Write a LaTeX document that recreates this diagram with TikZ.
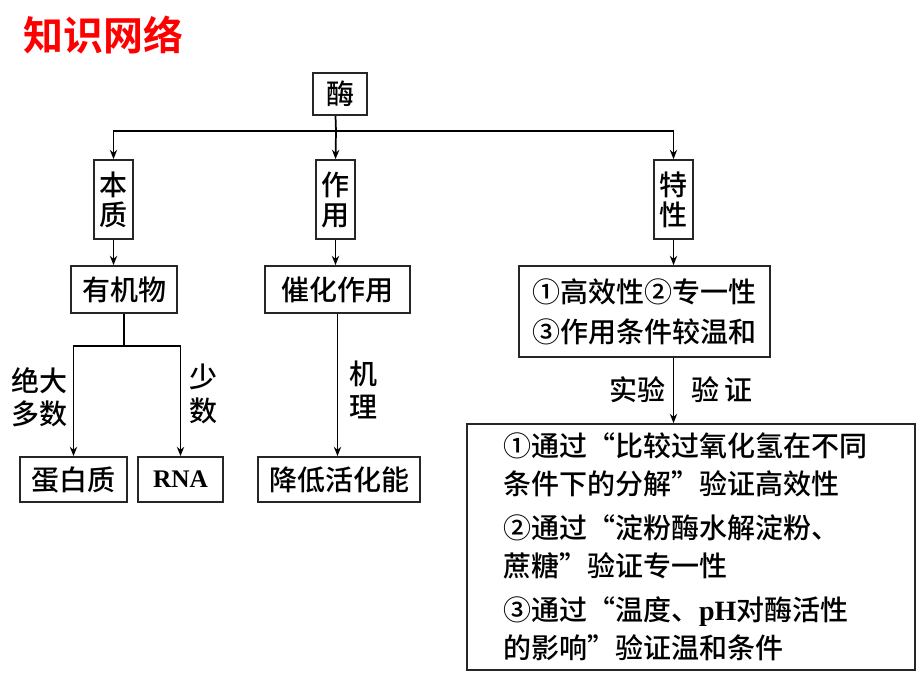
\documentclass[tikz,border=0pt]{standalone}
\usepackage{fontspec}
\setmainfont{Noto Sans CJK SC}[UprightFont=* Medium,BoldFont=* Bold]
\newfontfamily\latinbf{Liberation Serif}
\usetikzlibrary{arrows.meta}

\begin{document}
\begin{tikzpicture}[x=0.75pt,y=-0.75pt,
box/.style={draw=black!85,line width=1.3pt,inner sep=0pt,font=\fontsize{21}{22.5}\selectfont},
link/.style={line width=1.3pt},
arr/.style={link,-{Stealth[length=7pt,width=5.5pt]}},
lbl/.style={align=center,font=\fontsize{21}{25}\selectfont}]
\useasboundingbox (0,0) rectangle (920,690);
\node[text=red,font=\fontsize{30}{30}\selectfont\bfseries] (title) at (103,35) {知识网络};
\node[box,minimum width=40.5pt,minimum height=31.5pt] (mei) at (340,94) {酶};
\node[box,align=center,minimum width=29.25pt,minimum height=59.25pt] (benzhi) at (113.5,199.5) {本\\质};
\node[box,align=center,minimum width=29.25pt,minimum height=59.25pt] (zuoyong) at (335.5,199.5) {作\\用};
\node[box,align=center,minimum width=29.25pt,minimum height=59.25pt] (texing) at (673.5,199.5) {特\\性};
\node[box,minimum width=79.5pt,minimum height=35.25pt] (youjiwu) at (124,289.5) {有机物};
\node[box,minimum width=108.75pt,minimum height=35.25pt] (cuihua) at (337.5,289.5) {催化作用};
\node[box,align=left,minimum width=188.25pt,minimum height=68.25pt,font=\fontsize{21}{30}\selectfont] (texbox) at (644.5,311.5) {①高效性②专一性\\③作用条件较温和};
\node[box,minimum width=80.25pt,minimum height=33.75pt] (danbai) at (73.5,479.5) {蛋白质};
\node[box,minimum width=63.75pt,minimum height=33.75pt,font=\fontsize{19}{20}\latinbf\bfseries] (rna) at (180.5,479.5) {RNA};
\node[box,minimum width=121.5pt,minimum height=33.75pt] (jiangdi) at (339,479.5) {降低活化能};
\node[box,align=left,text width=282pt,minimum width=336pt,minimum height=184.5pt,font=\fontsize{21}{28.5}\selectfont] (big) at (691,547) {①通过“比较过氧化氢在不同\\
条件下的分解”验证高效性\\[4.5pt]
②通过“淀粉酶水解淀粉、\\
蔗糖”验证专一性\\[4.5pt]
③通过“温度、{\latinbf\bfseries pH}对酶活性\\
的影响”验证温和条件};

\coordinate (hub) at (336,131);
\draw[link] (mei.south -| zuoyong) -- (hub);
\draw[arr] (hub) -| (benzhi.north);
\draw[arr] (hub) -| (texing.north);
\draw[arr] (hub) -- (zuoyong.north);
\draw[arr] (benzhi.south) -- (benzhi.south |- youjiwu.north);
\draw[arr] (zuoyong.south) -- (zuoyong.south |- cuihua.north);
\draw[arr] (texing.south) -- (texing.south |- texbox.north);
\coordinate (fork) at (124,346);
\draw[link] (youjiwu.south) -- (fork);
\draw[arr] (fork) -| (danbai.north);
\draw[arr] (fork) -| (rna.north);
\draw[arr] (cuihua.south) -- (cuihua.south |- jiangdi.north);
\draw[arr] (texbox.south -| texing) -- (big.north -| texing);

\node[lbl] (most) at (40,397) {绝大\\多数};
\node[lbl] (few) at (203,394) {少\\数};
\node[lbl] (mech) at (363,390) {机\\理};
\node[lbl] (exp) at (637,390) {实验};
\node[lbl] (verify) at (722,390) {验\,证};
\end{tikzpicture}
\end{document}
